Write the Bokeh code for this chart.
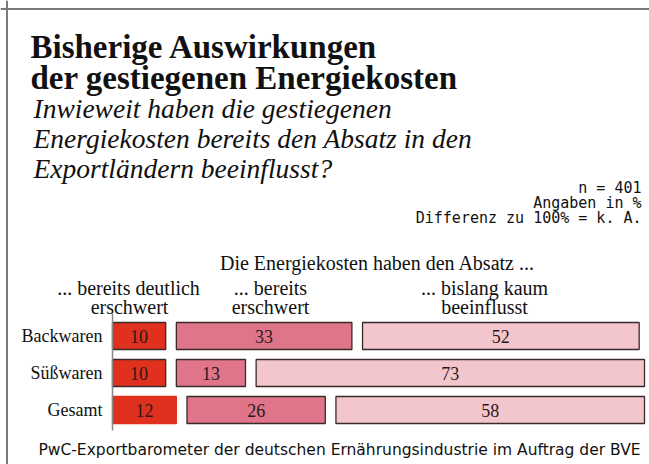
from bokeh.plotting import figure
from bokeh.models import ColumnDataSource, Range1d, Label, Span
from bokeh.core.properties import value
from bokeh.embed import file_html
from bokeh.resources import INLINE

# ---- data ----
categories = ["Backwaren", "Süßwaren", "Gesamt"]
deutlich_erschwert = [10, 10, 12]
erschwert = [33, 13, 26]
kaum_beeinflusst = [52, 73, 58]

# ---- style ----
GAP = 2
COLORS = ["#e0301e", "#e07489", "#f3c6cd"]
SERIF = "Liberation Serif"
W, H = 649, 464
PX_PER_UNIT = 5.32
X0_PAGE = 112.0      # x of value 0
ROW0_PAGE = 335.5    # y of first row center
ROW_STEP = 37.0

def X(px):
    return (px - X0_PAGE) / PX_PER_UNIT

def Y(py):
    return (py - ROW0_PAGE) / ROW_STEP

x_range = Range1d(X(0), X(W))
y_range = Range1d(Y(H), Y(0))  # flipped: rows go downward

p = figure(width=W, height=H, x_range=x_range, y_range=y_range,
           output_backend="svg", toolbar_location=None,
           x_axis_location=None, y_axis_location=None,
           min_border=0, outline_line_color=None)
p.grid.visible = False
p.background_fill_color = "white"
p.border_fill_color = "white"

# ---- bars ----
left, right, top, bottom, fill, line, labels, cx, cy = [], [], [], [], [], [], [], [], []
for i, cat in enumerate(categories):
    vals = [deutlich_erschwert[i], erschwert[i], kaum_beeinflusst[i]]
    start = 0
    for j, v in enumerate(vals):
        l, r = start, start + v
        left.append(l); right.append(r)
        top.append(i - 0.365); bottom.append(i + 0.365)
        fill.append(COLORS[j])
        line.append(COLORS[j] if (cat == "Gesamt" and j == 0) else "#3a2a2a")
        labels.append(str(v)); cx.append((l + r) / 2); cy.append(i)
        start = r + GAP

src = ColumnDataSource(dict(left=left, right=right, top=top, bottom=bottom,
                            fill=fill, line=line))
p.quad(left="left", right="right", top="top", bottom="bottom", source=src,
       fill_color="fill", line_color="line", line_width=1.3)

p.text(x=cx, y=cy, text=labels, text_align="center", text_baseline="middle",
       text_font=value(SERIF), text_font_size="18px", text_color="#2a1a1a")

# category labels
p.text(x=[X(102)] * len(categories), y=list(range(len(categories))), text=categories,
       text_align="right", text_baseline="middle",
       text_font=value(SERIF), text_font_size="18px", text_color="#111111")

# axis line
p.segment(x0=[0], y0=[Y(313)], x1=[0], y1=[Y(430)], line_color="#888888", line_width=1.5)

# frame border (left and top only)
p.add_layout(Span(location=X(6.5), dimension="height",
                  line_color="#7a7a7a", line_width=2))
p.add_layout(Span(location=Y(8.5), dimension="width",
                  line_color="#7a7a7a", line_width=2))

def lab(text, px, py, size, align="left", font=SERIF, style="normal", color="#111111"):
    p.add_layout(Label(x=X(px), y=Y(py), text=text, text_align=align,
                       text_baseline="middle", text_font=font,
                       text_font_size=size, text_font_style=style,
                       text_color=color))

# titles
lab("Bisherige Auswirkungen", 30, 46, "33px", style="bold")
lab("der gestiegenen Energiekosten", 30, 77, "33px", style="bold")
lab("Inwieweit haben die gestiegenen", 33, 108, "27.5px", style="italic")
lab("Energiekosten bereits den Absatz in den", 33, 138, "27.5px", style="italic")
lab("Exportländern beeinflusst?", 33, 168, "27.5px", style="italic")

# notes
MONO = "DejaVu Sans Mono"
lab("n = 401", 641, 187, "15px", align="right", font=MONO)
lab("Angaben in %", 641, 202, "15px", align="right", font=MONO)
lab("Differenz zu 100% = k. A.", 641, 217, "15px", align="right", font=MONO)

# column headers
HS = "20px"
lab("Die Energiekosten haben den Absatz ...", 377, 262, HS, align="center")
lab("... bereits deutlich", 128, 287, HS, align="center")
lab("erschwert", 129, 306, HS, align="center")
lab("... bereits", 270, 287, HS, align="center")
lab("erschwert", 270, 306, HS, align="center")
lab("... bislang kaum", 484, 287, HS, align="center")
lab("beeinflusst", 484, 306, HS, align="center")

# footer
lab("PwC-Exportbarometer der deutschen Ernährungsindustrie im Auftrag der BVE",
    339, 449, "15.5px", align="center", font="DejaVu Sans")

open("out.html", "w").write(file_html(p, INLINE))
